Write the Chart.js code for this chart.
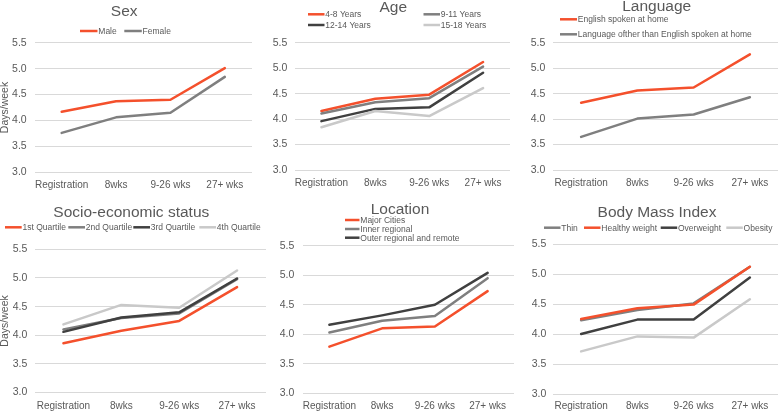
<!DOCTYPE html>
<html><head><meta charset="utf-8">
<script src="https://cdn.jsdelivr.net/npm/chart.js@4.4.1/dist/chart.umd.min.js"></script>
<style>
html,body{margin:0;padding:0;background:#fff;}
body{width:778px;height:411px;position:relative;overflow:hidden;}
canvas{position:absolute;}
</style></head><body>
<canvas id="c1"></canvas><canvas id="c2"></canvas><canvas id="c3"></canvas>
<canvas id="c4"></canvas><canvas id="c5"></canvas><canvas id="c6"></canvas>
<script>
// ---------- data ----------
const categories = ['Registration', '8wks', '9-26 wks', '27+ wks'];
const Y_MIN = 3.0, Y_MAX = 5.5, Y_STEP = 0.5;
const yAxisTitle = 'Days/week';

const sexTitle = 'Sex';
const sexLabels = ['Male', 'Female'];
const sexMale   = [4.17, 4.37, 4.40, 5.01];
const sexFemale = [3.76, 4.06, 4.15, 4.84];

const ageTitle = 'Age';
const ageLabels = ['4-8 Years', '9-11 Years', '12-14 Years', '15-18 Years'];
const age4to8   = [4.16, 4.40, 4.48, 5.12];
const age9to11  = [4.11, 4.33, 4.41, 5.03];
const age12to14 = [3.96, 4.20, 4.23, 4.91];
const age15to18 = [3.84, 4.16, 4.06, 4.61];

const langTitle = 'Language';
const langLabels = ['English spoken at home', 'Language ofther than English spoken at home'];
const langEnglish = [4.32, 4.56, 4.62, 5.27];
const langOther   = [3.65, 4.01, 4.09, 4.43];

const sesTitle = 'Socio-economic status';
const sesLabels = ['1st Quartile', '2nd Quartile', '3rd Quartile', '4th Quartile'];
const ses1 = [3.86, 4.08, 4.25, 4.84];
const ses2 = [4.10, 4.30, 4.38, 4.98];
const ses3 = [4.06, 4.31, 4.40, 4.99];
const ses4 = [4.19, 4.53, 4.48, 5.13];

const locTitle = 'Location';
const locLabels = ['Major Cities', 'Inner regional', 'Outer regional and remote'];
const locMajor = [3.79, 4.10, 4.13, 4.73];
const locInner = [4.03, 4.23, 4.31, 4.95];
const locOuter = [4.16, 4.32, 4.50, 5.04];

const bmiTitle = 'Body Mass Index';
const bmiLabels = ['Thin', 'Healthy weight', 'Overweight', 'Obesity'];
const bmiThin    = [4.23, 4.40, 4.51, 5.12];
const bmiHealthy = [4.25, 4.43, 4.49, 5.12];
const bmiOver    = [4.00, 4.24, 4.24, 4.94];
const bmiObese   = [3.71, 3.96, 3.94, 4.58];

// ---------- styles ----------
const RED = '#F4502C', GRAY = '#7F7F7F', DARK = '#404040', LIGHT = '#C9C9C9';
const FONT = "'Liberation Sans', Arial, Helvetica, sans-serif";
const TEXT = '#595959';
const GRID = '#D9D9D9';

function makePanel(id, g, title, labels, series, colors) {
  const [L, T, W, H] = g.box;
  const [pl, pr, pt, pb] = g.plot;
  const cv = document.getElementById(id);
  cv.width = W; cv.height = H;
  cv.style.left = L + 'px'; cv.style.top = T + 'px';
  cv.style.width = W + 'px'; cv.style.height = H + 'px';
  const titleSize = 15.5, titleLH = titleSize * 1.2;

  const layoutPlugin = {
    id: 'layoutFix',
    afterLayout(chart) {
      const tb = chart.titleBlock;
      if (!tb) return;
      const cx = g.title[0] - L, cy = g.title[1] - T;
      tb.left = cx - 150; tb.right = cx + 150; tb.width = 300;
      tb.top = cy - titleLH / 2; tb.bottom = tb.top + titleLH; tb.height = titleLH;
    },
    afterDraw(chart) {
      const ctx = chart.ctx;
      ctx.save();
      ctx.font = '8.5px ' + FONT;
      ctx.textBaseline = 'middle';
      ctx.textAlign = 'left';
      chart.data.datasets.forEach((ds, i) => {
        const p = g.legend[i];
        const x = p[0] - L, y = p[1] - T;
        ctx.strokeStyle = ds.borderColor;
        ctx.lineWidth = 2.5;
        ctx.lineCap = 'butt';
        ctx.beginPath();
        ctx.moveTo(x, y); ctx.lineTo(x + g.legLen, y);
        ctx.stroke();
        ctx.fillStyle = TEXT;
        ctx.fillText(ds.label, x + g.legLen + 0.8, y + 0.5);
      });
      ctx.restore();
    }
  };

  return new Chart(cv, {
    type: 'line',
    data: {
      labels: categories,
      datasets: series.map((s, i) => ({
        label: labels[i],
        data: s,
        borderColor: colors[i],
        backgroundColor: colors[i],
        borderWidth: 2.5,
        pointRadius: 0,
        pointHoverRadius: 0,
        tension: 0,
        fill: false,
        borderCapStyle: 'round',
        borderJoinStyle: 'round',
        order: -i
      }))
    },
    options: {
      responsive: false,
      animation: false,
      devicePixelRatio: 1,
      events: [],
      layout: { padding: { left: 0, top: pt - T - titleLH, right: (L + W) - pr, bottom: 0 } },
      plugins: {
        legend: { display: false },
        tooltip: { enabled: false },
        title: {
          display: true, text: title, color: TEXT, padding: 0,
          font: { family: FONT, size: titleSize, weight: 'normal', lineHeight: 1.2 }
        }
      },
      scales: {
        x: {
          type: 'category',
          offset: true,
          grid: { display: false, drawTicks: false },
          border: { display: false },
          ticks: { color: TEXT, font: { family: FONT, size: 10 }, padding: g.xPad, maxRotation: 0, autoSkip: false },
          afterFit: s => { s.height = (T + H) - pb; }
        },
        y: {
          min: Y_MIN, max: Y_MAX,
          grid: { color: GRID, lineWidth: 1, drawTicks: false },
          border: { display: false },
          ticks: { stepSize: Y_STEP, color: TEXT, font: { family: FONT, size: 10.5 }, padding: g.yPad,
                   callback: v => Number(v).toFixed(1) },
          title: { display: !!g.yTitle, text: yAxisTitle, color: TEXT,
                   font: { family: FONT, size: 10.5, lineHeight: 1 }, padding: { top: -0.25, bottom: 0 } },
          afterFit: s => { s.width = pl - L; }
        }
      }
    },
    plugins: [layoutPlugin]
  });
}

makePanel('c1', { box: [0, 0, 258, 205], plot: [34.5, 252, 42.7, 172.3], title: [124.2, 11.5],
  legend: [[80, 31], [124.3, 31]], legLen: 17.5, xPad: 7.2, yPad: 7.8, yTitle: true },
  sexTitle, sexLabels, [sexMale, sexFemale], [RED, GRAY]);

makePanel('c2', { box: [262, 0, 256, 205], plot: [294.5, 510, 42.7, 170], title: [393.3, 8],
  legend: [[308, 14.3], [423.5, 14.3], [308, 25], [423.5, 25]], legLen: 16.5, xPad: 7, yPad: 7.2 },
  ageTitle, ageLabels, [age4to8, age9to11, age12to14, age15to18], [RED, GRAY, DARK, LIGHT]);

makePanel('c3', { box: [520, 0, 258, 205], plot: [553, 778, 42.7, 170], title: [656.7, 7],
  legend: [[560, 19.3], [560, 34.3]], legLen: 17, xPad: 7, yPad: 7.7 },
  langTitle, langLabels, [langEnglish, langOther], [RED, GRAY]);

makePanel('c4', { box: [0, 200, 268, 211], plot: [34.5, 266, 249.3, 392.6], title: [131.3, 213.2],
  legend: [[5, 227.3], [68.3, 227.3], [133.3, 227.3], [199.3, 227.3]], legLen: 16.7, xPad: 7.2, yPad: 7.2, yTitle: true },
  sesTitle, sesLabels, [ses1, ses2, ses3, ses4], [RED, GRAY, DARK, LIGHT]);

makePanel('c5', { box: [270, 195, 250, 216], plot: [303, 514, 245.7, 393.3], title: [400, 209.5],
  legend: [[345, 220], [345, 229], [345, 237.7]], legLen: 14.5, xPad: 7.2, yPad: 8.7 },
  locTitle, locLabels, [locMajor, locInner, locOuter], [RED, GRAY, DARK]);

makePanel('c6', { box: [520, 200, 258, 211], plot: [553, 778, 244, 394], title: [657, 213.2],
  legend: [[544, 227.7], [584, 227.7], [660.7, 227.7], [726.3, 227.7]], legLen: 16.5, xPad: 6.6, yPad: 6.7 },
  bmiTitle, bmiLabels, [bmiThin, bmiHealthy, bmiOver, bmiObese], [GRAY, RED, DARK, LIGHT]);
</script>
</body></html>
